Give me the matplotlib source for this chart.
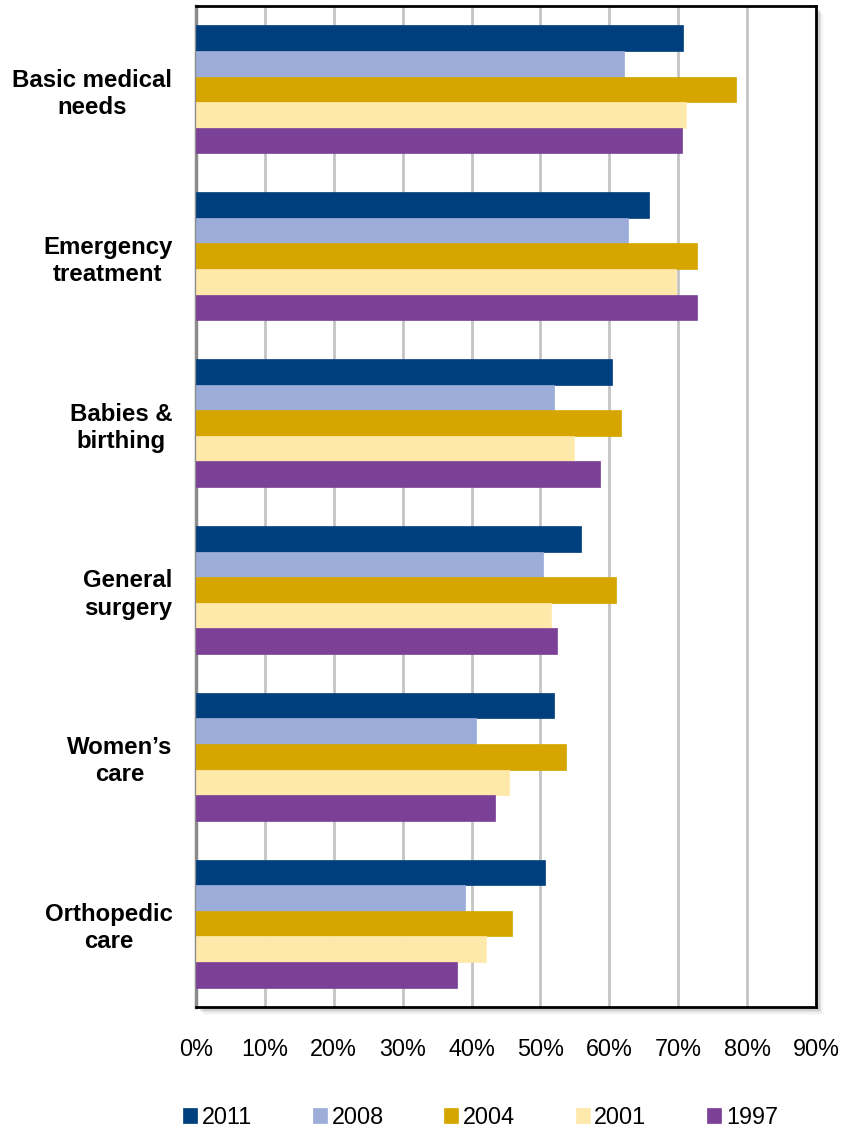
"""
Share of respondents rating each area of care, by survey year.
Horizontal grouped bars, one group per care area, one bar per year.
"""

import matplotlib
matplotlib.use("Agg")
import matplotlib.pyplot as plt
from matplotlib.patches import Rectangle
from matplotlib.ticker import FuncFormatter, MultipleLocator

plt.rcParams.update({
    "font.family": ["Liberation Sans", "DejaVu Sans"],
    "font.size": 16.5,
})

categories = ["Basic medical\nneeds", "Emergency\ntreatment", "Babies &\nbirthing",
              "General\nsurgery", "Women\u2019s\ncare", "Orthopedic\ncare"]
years = ["2011", "2008", "2004", "2001", "1997"]

v2011 = [70.7, 65.7, 60.4, 55.9, 51.9, 50.6]
v2008 = [62.2, 62.7, 51.9, 50.4, 40.6, 39.1]
v2004 = [78.4, 72.7, 61.7, 61.0, 53.7, 45.9]
v2001 = [71.2, 69.7, 54.9, 51.6, 45.4, 42.1]
v1997 = [70.6, 72.7, 58.6, 52.4, 43.4, 37.9]
series = [v2011, v2008, v2004, v2001, v1997]

colors = ["#003f7d", "#9badd8", "#d7a500", "#ffe9aa", "#7b4196"]

W, H = 843, 1128
fig = plt.figure(figsize=(W / 100, H / 100), dpi=100)
ax_box = [196 / W, 121 / H, 620 / W, 1001 / H]

# soft drop shadow behind the plot frame (right and bottom)
for i, a in enumerate([0.10, 0.08, 0.06, 0.04, 0.02]):
    off = 2 + i * 1.5
    fig.patches.append(Rectangle(
        ((196 + off) / W, (121 - off) / H), 620 / W, 1001 / H,
        transform=fig.transFigure, facecolor="#000000", alpha=a,
        edgecolor="none", zorder=0))

ax = fig.add_axes(ax_box, zorder=1)

bar_h = 0.1535
n = len(series)
for j, (vals, col, yr) in enumerate(zip(series, colors, years)):
    ys = [i + (j - (n - 1) / 2) * bar_h for i in range(len(categories))]
    ax.barh(ys, vals, height=bar_h, color=col, label=yr,
            edgecolor=col, linewidth=0.5, zorder=3)

ax.set_xlim(0, 90)
ax.set_ylim(len(categories) - 0.5, -0.5)
ax.xaxis.set_major_locator(MultipleLocator(10))
ax.xaxis.set_major_formatter(FuncFormatter(lambda v, p: f"{v:.0f}%"))
ax.grid(axis="x", color="#c4c4c4", lw=2, zorder=0)
ax.set_axisbelow(True)

ax.set_yticks(range(len(categories)))
ax.set_yticklabels(categories, fontweight="bold", fontsize=17.3,
                   linespacing=1.23)
for lab in ax.get_yticklabels():
    lab.set_multialignment("center")
ax.tick_params(axis="y", length=0, pad=17)
ax.tick_params(axis="x", length=0, pad=22, labelsize=16.8)

for side in ["top", "right", "bottom"]:
    ax.spines[side].set_color("black")
    ax.spines[side].set_linewidth(2)
ax.spines["left"].set_color("#8c8c8c")
ax.spines["left"].set_linewidth(2.5)

fig.legend(loc="center", bbox_to_anchor=(0.57, 11 / H), ncol=5, frameon=False,
           fontsize=16.8, handlelength=0.6, handleheight=0.6,
           handletextpad=0.2, columnspacing=2.6, borderaxespad=0)

fig.savefig("out.png", dpi=100)
